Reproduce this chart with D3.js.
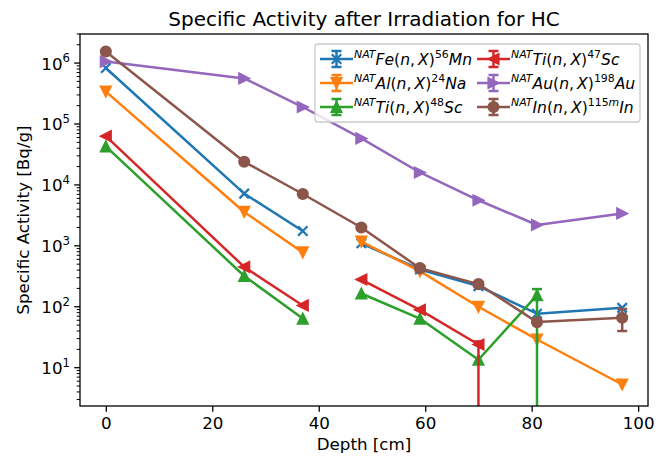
<!DOCTYPE html>
<html><head><meta charset="utf-8">
<script src="https://cdn.jsdelivr.net/npm/d3@7"></script>
<style>
html,body{margin:0;padding:0;background:#fff;}
svg{display:block;font-family:"DejaVu Sans",sans-serif;}
</style></head>
<body><div id="chart"></div>
<script>
// ---- data ----
const depths = [0, 26, 37, 48, 59, 70, 81, 97];
const feValues   = [8.3e5, 7.2e3, 1.75e3, 1.1e3, 410, 218, 77, 96];
const alValues   = [3.4e5, 3.6e3, 780, 1.17e3, 385, 100, 29, 5.3];
const ti48Values = [4.3e4, 320, 64, 165, 64, 13.5, 155, null];
const ti47Values = [6.3e4, 450, 105, 280, 89, 24, null, null];
const auValues   = [1.06e6, 5.6e5, 1.9e5, 5.8e4, 1.6e4, 5.6e3, 2.2e3, 3.4e3];
const inValues   = [1.55e6, 2.4e4, 7.1e3, 2.0e3, 430, 235, 56, 66];
// asymmetric errors (lower, upper); null = too small to see
const ti48ErrLow  = [null, null, null, null, null, null, 160, null];
const ti48ErrHigh = [null, null, null, null, null, null, 40, null];
const ti47ErrLow  = [null, null, null, null, null, 30, null, null];
const ti47ErrHigh = [null, null, null, null, null, 3, null, null];
const inErrLow    = [null, null, null, null, null, null, null, 26];
const inErrHigh   = [null, null, null, null, null, null, null, 26];
// connected runs of points (index ranges)
const feRuns = [[0, 3], [3, 8]];
const alRuns = [[0, 3], [3, 8]];
const ti48Runs = [[0, 3], [3, 7]];
const ti47Runs = [[0, 3], [3, 6]];
const auRuns = [[0, 8]];
const inRuns = [[0, 8]];
const xTicks = [0, 20, 40, 60, 80, 100];
const yTickExps = [1, 2, 3, 4, 5, 6];
const title = "Specific Activity after Irradiation for HC";
const xLabel = "Depth [cm]";
const yLabel = "Specific Activity [Bq/g]";
// legend labels as mathtext-like chunks: [text, kind]; kinds: "supi" italic sup, "sup" upright sup, "i" italic, "" upright
const feLabel = [["NAT","supi"],["Fe","i"],["(",""],["n","i"],[",\u2009",""],["X","i"],[")",""],["56","sup"],["Mn","i"]];
const alLabel = [["NAT","supi"],["Al","i"],["(",""],["n","i"],[",\u2009",""],["X","i"],[")",""],["24","sup"],["Na","i"]];
const ti48Label = [["NAT","supi"],["Ti","i"],["(",""],["n","i"],[",\u2009",""],["X","i"],[")",""],["48","sup"],["Sc","i"]];
const ti47Label = [["NAT","supi"],["Ti","i"],["(",""],["n","i"],[",\u2009",""],["X","i"],[")",""],["47","sup"],["Sc","i"]];
const auLabel = [["NAT","supi"],["Au","i"],["(",""],["n","i"],[",\u2009",""],["X","i"],[")",""],["198","sup"],["Au","i"]];
const inLabel = [["NAT","supi"],["In","i"],["(",""],["n","i"],[",\u2009",""],["X","i"],[")",""],["115","sup"],["m","supi"],["In","i"]];

const series = [
  {label: feLabel,   values: feValues,   runs: feRuns,   lo: null, hi: null, color: "#1f77b4", marker: "x"},
  {label: alLabel,   values: alValues,   runs: alRuns,   lo: null, hi: null, color: "#ff7f0e", marker: "down"},
  {label: ti48Label, values: ti48Values, runs: ti48Runs, lo: ti48ErrLow, hi: ti48ErrHigh, color: "#2ca02c", marker: "up"},
  {label: ti47Label, values: ti47Values, runs: ti47Runs, lo: ti47ErrLow, hi: ti47ErrHigh, color: "#d62728", marker: "left"},
  {label: auLabel,   values: auValues,   runs: auRuns,   lo: null, hi: null, color: "#9467bd", marker: "right"},
  {label: inLabel,   values: inValues,   runs: inRuns,   lo: inErrLow, hi: inErrHigh, color: "#8c564b", marker: "circle"}
];

// ---- layout ----
const W = 670, H = 460;
const L = 80, R = 648, T = 34, B = 406;
const FS = 16.7, SUP = 11.7;
const LFS = 15.6, LSUP = 10.9;
const LW = 2.5;
const x = d3.scaleLinear().domain([-4.85, 101.85]).range([L, R]);
const y = d3.scaleLog().domain([2.35, 3.0e6]).range([B, T]);

const svg = d3.select("#chart").append("svg").attr("width", W).attr("height", H);
svg.append("rect").attr("width", W).attr("height", H).attr("fill", "#fff");
svg.append("defs").append("clipPath").attr("id", "clip")
  .append("rect").attr("x", L).attr("y", T).attr("width", R - L).attr("height", B - T);

const ms = 10.5; // marker size
function markerPath(kind, s) {
  const h = s / 2;
  if (kind === "up") return `M0,${-h}L${h},${h}L${-h},${h}Z`;
  if (kind === "down") return `M0,${h}L${h},${-h}L${-h},${-h}Z`;
  if (kind === "left") return `M${-h},0L${h},${-h}L${h},${h}Z`;
  if (kind === "right") return `M${h},0L${-h},${-h}L${-h},${h}Z`;
  if (kind === "x") { return `M${-h},${-h}L${h},${h}M${-h},${h}L${h},${-h}`; }
  return null;
}
function drawMarker(g, kind, color, cx, cy) {
  if (kind === "circle") {
    g.append("circle").attr("cx", cx).attr("cy", cy).attr("r", ms / 2)
      .attr("fill", color).attr("stroke", color).attr("stroke-width", 1.67);
  } else if (kind === "x") {
    g.append("path").attr("transform", `translate(${cx},${cy})`).attr("d", markerPath(kind, ms * 0.9))
      .attr("fill", "none").attr("stroke", color).attr("stroke-width", 2.3);
  } else {
    g.append("path").attr("transform", `translate(${cx},${cy})`).attr("d", markerPath(kind, ms))
      .attr("fill", color).attr("stroke", color).attr("stroke-width", 1.67).attr("stroke-linejoin", "miter");
  }
}
function capLines(g, color, cx, ys) {
  ys.forEach(cy => g.append("line").attr("x1", cx - 5).attr("x2", cx + 5)
    .attr("y1", cy).attr("y2", cy).attr("stroke", color).attr("stroke-width", LW));
}

const plot = svg.append("g").attr("clip-path", "url(#clip)");
const line = d3.line().x(d => x(d[0])).y(d => y(d[1]));

series.forEach(s => {
  const g = plot.append("g");
  s.runs.forEach(([a, b]) => {
    const pts = [];
    for (let i = a; i < b; i++) if (s.values[i] != null) pts.push([depths[i], s.values[i]]);
    g.append("path").attr("d", line(pts)).attr("fill", "none")
      .attr("stroke", s.color).attr("stroke-width", LW).attr("stroke-linejoin", "round");
  });
  if (s.lo) {
    s.values.forEach((v, i) => {
      if (v == null || s.lo[i] == null) return;
      const lowV = v - s.lo[i], highV = v + s.hi[i];
      const yl = lowV > 0 ? y(lowV) : B + 20;
      const yh = y(highV);
      const cx = x(depths[i]);
      g.append("line").attr("x1", cx).attr("x2", cx).attr("y1", yl).attr("y2", yh)
        .attr("stroke", s.color).attr("stroke-width", LW);
      capLines(g, s.color, cx, [yl, yh]);
    });
  }
  s.values.forEach((v, i) => {
    if (v == null) return;
    drawMarker(g, s.marker, s.color, x(depths[i]), y(v));
  });
});

// ---- axes ----
const xAxis = svg.append("g").attr("transform", `translate(0,${B})`)
  .call(d3.axisBottom(x).tickValues(xTicks).tickSize(5.8).tickPadding(5.8).tickFormat(d3.format("d")));
xAxis.select(".domain").remove();
xAxis.selectAll("line").attr("stroke", "#000").attr("stroke-width", 1.3);
xAxis.selectAll("text").attr("font-family", "DejaVu Sans").attr("font-size", FS).attr("fill", "#000");

const yAxis = svg.append("g");
yTickExps.forEach(e => {
  const yy = y(Math.pow(10, e));
  yAxis.append("line").attr("x1", L - 5.8).attr("x2", L).attr("y1", yy).attr("y2", yy)
    .attr("stroke", "#000").attr("stroke-width", 1.3);
  const t = yAxis.append("text").attr("x", L - 10).attr("y", yy + 6.5)
    .attr("text-anchor", "end").attr("font-size", FS).attr("fill", "#000");
  t.append("tspan").text("10");
  t.append("tspan").attr("font-size", SUP).attr("dy", -7.5).text(String(e));
});
const [d0, d1] = y.domain();
for (let e = Math.floor(Math.log10(d0)); e <= Math.ceil(Math.log10(d1)); e++) {
  for (let m = 2; m <= 9; m++) {
    const v = m * Math.pow(10, e);
    if (v < d0 || v > d1) continue;
    const yy = y(v);
    yAxis.append("line").attr("x1", L - 3.3).attr("x2", L).attr("y1", yy).attr("y2", yy)
      .attr("stroke", "#000").attr("stroke-width", 1.0);
  }
}

svg.append("rect").attr("x", L).attr("y", T).attr("width", R - L).attr("height", B - T)
  .attr("fill", "none").attr("stroke", "#000").attr("stroke-width", 1.3);

svg.append("text").attr("x", (L + R) / 2).attr("y", 26).attr("text-anchor", "middle")
  .attr("font-size", 20).attr("fill", "#000").text(title);
svg.append("text").attr("x", (L + R) / 2).attr("y", 450).attr("text-anchor", "middle")
  .attr("font-size", FS).attr("fill", "#000").text(xLabel);
svg.append("text").attr("transform", `translate(29,${(T + B) / 2}) rotate(-90)`).attr("text-anchor", "middle")
  .attr("font-size", FS).attr("fill", "#000").text(yLabel);

// ---- legend ----
const lg = svg.append("g");
lg.append("rect").attr("x", 315).attr("y", 44).attr("width", 325).attr("height", 78)
  .attr("rx", 3).attr("fill", "#fff").attr("fill-opacity", 0.8).attr("stroke", "#cccccc").attr("stroke-width", 1.3);
const colX = [320, 477];
const rowY = [59, 83, 107];
series.forEach((s, k) => {
  const col = Math.floor(k / 3), row = k % 3;
  const x0 = colX[col], yy = rowY[row], hw = 33;
  const g = lg.append("g");
  g.append("line").attr("x1", x0).attr("x2", x0 + hw).attr("y1", yy).attr("y2", yy)
    .attr("stroke", s.color).attr("stroke-width", LW);
  const cx = x0 + hw / 2;
  g.append("line").attr("x1", cx).attr("x2", cx).attr("y1", yy - 8).attr("y2", yy + 8)
    .attr("stroke", s.color).attr("stroke-width", LW);
  capLines(g, s.color, cx, [yy - 8, yy + 8]);
  drawMarker(g, s.marker, s.color, cx, yy);
  const t = g.append("text").attr("x", x0 + hw + 1).attr("y", yy + 5.5).attr("font-size", LFS).attr("fill", "#000");
  let raised = false;
  s.label.forEach(([txt, kind]) => {
    const ts = t.append("tspan").text(txt);
    if (kind === "sup" || kind === "supi") {
      ts.attr("font-size", LSUP).attr("font-style", kind === "supi" ? "italic" : "normal");
      if (!raised) { ts.attr("dy", -6.5); raised = true; }
    } else {
      if (raised) { ts.attr("dy", 6.5); raised = false; }
      if (kind === "i") ts.attr("font-style", "italic");
    }
  });
});
</script>
</body></html>
